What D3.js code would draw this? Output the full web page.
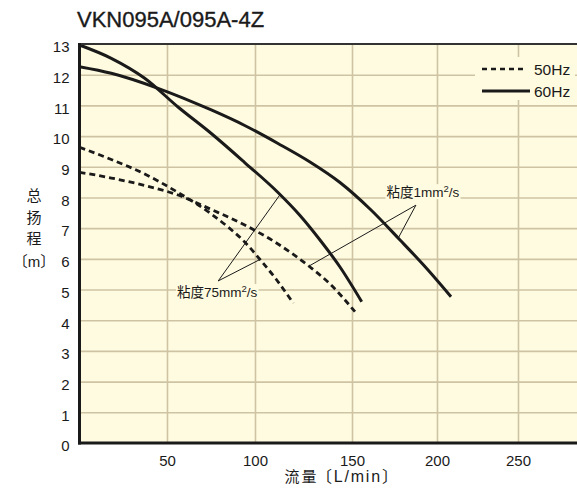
<!DOCTYPE html>
<html><head><meta charset="utf-8">
<script src="https://cdn.jsdelivr.net/npm/d3@7"></script>
<style>
body{margin:0;background:#fff}
text{font-family:"Liberation Sans","Noto Sans CJK SC",sans-serif;fill:#1a1a1a}
</style>
</head><body>
<svg id="c" width="577" height="491"></svg>
<script>
// ---- data ----
const titleText = "VKN095A/095A-4Z";
const xTickValues = [50, 100, 150, 200, 250];
const xGridValues = [50, 100, 150, 200, 250];
const yTickValues = [0,1,2,3,4,5,6,7,8,9,10,11,12,13];
const yGridValues = [1,2,3,4,5,6,7,8,9,10,11,12];
const yTitleChars = ["总", "扬", "程", "〔m〕"];
const xTitleParts = ["流", "量", "〔L/min〕"];
const legendLabels = ["50Hz", "60Hz"];

// 60Hz, viscosity 75 mm2/s (solid)
const flow60v75 = [0, 18.17, 37.26, 56.25, 75.17, 94.15, 111.86, 123.2, 133.51, 143.81, 155.71];
const head60v75 = [12.968, 12.534, 11.883, 10.948, 10.084, 9.139, 8.162, 7.413, 6.614, 5.735, 4.604];
// 60Hz, viscosity 1 mm2/s (solid)
const flow60v1 = [0, 18.17, 44.86, 75.17, 94.15, 111.86, 128.35, 143.81, 160.59, 178.24, 193.94, 208.65];
const head60v1 = [12.261, 12.046, 11.557, 10.85, 10.345, 9.759, 9.156, 8.488, 7.625, 6.615, 5.686, 4.767];
// 50Hz, viscosity 75 mm2/s (dashed)
const flow50v75 = [0, 18.17, 37.26, 56.25, 75.17, 84.66, 94.15, 102.58, 111.19, 119.74];
const head50v75 = [9.635, 9.237, 8.765, 8.162, 7.461, 7.038, 6.549, 5.979, 5.311, 4.552];
// 50Hz, viscosity 1 mm2/s (dashed)
const flow50v1 = [0, 18.17, 37.26, 56.25, 75.17, 94.15, 111.86, 128.35, 138.66, 151.76];
const head50v1 = [8.82, 8.634, 8.39, 8.08, 7.608, 7.103, 6.484, 5.735, 5.181, 4.278];

// annotations: label, apex [flow, head], targets
const ann75Label = ["粘度75mm", "2", "/s"];
const ann75Apex = [79.1, 5.28];
const ann75Ends = [[112.89, 8.09], [102.58, 5.98]];
const ann1Label = ["粘度1mm", "2", "/s"];
const ann1Apex = [187.6, 7.75];
const ann1Ends = [[177.24, 6.68], [127.99, 5.77]];

// ---- layout ----
const W = 577, H = 491;
const bg = "#fffbe0", gridC = "#cec4a3", ink = "#1a1a1a";
const svg = d3.select("#c");

const x = d3.scaleLinear()
  .domain([0, 50, 100, 150, 200, 250])
  .range([79.5, 167, 255, 352, 437, 518]);
const y = d3.scaleLinear().domain([0, 13]).range([443, 44]);
const x0 = x(0), xR = W, yB = y(0), yT = y(13);

// plot background
svg.append("rect").attr("x", x0).attr("y", yT).attr("width", xR - x0).attr("height", yB - yT).attr("fill", bg);

// grid
const gx = svg.append("g").attr("transform", `translate(0,${yB})`)
  .call(d3.axisBottom(x).tickValues(xGridValues).tickSize(-(yB - yT)).tickFormat(""));
gx.select(".domain").remove();
gx.selectAll("line").attr("stroke", gridC).attr("stroke-width", 1.6);
const gy = svg.append("g").attr("transform", `translate(${x0},0)`)
  .call(d3.axisLeft(y).tickValues(yGridValues).tickSize(-(xR - x0)).tickFormat(""));
gy.select(".domain").remove();
gy.selectAll("line").attr("stroke", gridC).attr("stroke-width", 1.6);

// curves
const line = d3.line().x(d => x(d[0])).y(d => y(d[1])).curve(d3.curveMonotoneX);
function curve(fl, hd, dashed) {
  svg.append("path").datum(fl.map((f, i) => [f, hd[i]]))
    .attr("d", line).attr("fill", "none").attr("stroke", ink)
    .attr("stroke-width", dashed ? 2.8 : 3)
    .attr("stroke-dasharray", dashed ? "6,4" : null);
}
curve(flow60v75, head60v75, false);
curve(flow60v1, head60v1, false);
curve(flow50v75, head50v75, true);
curve(flow50v1, head50v1, true);

// annotations
function annotate(label, apex, ends, dx, dy) {
  ends.forEach(e => {
    svg.append("line").attr("x1", x(apex[0])).attr("y1", y(apex[1]))
      .attr("x2", x(e[0])).attr("y2", y(e[1]))
      .attr("stroke", ink).attr("stroke-width", 1);
  });
  const g = svg.append("g");
  const t = g.append("text").attr("x", x(apex[0]) + dx).attr("y", y(apex[1]) + dy)
    .attr("text-anchor", "middle").attr("font-size", 13.5);
  t.append("tspan").text(label[0]);
  t.append("tspan").text(label[1]).attr("font-size", 9.5).attr("dy", -5);
  t.append("tspan").text(label[2]).attr("dy", 5);
  const b = t.node().getBBox();
  g.insert("rect", "text").attr("x", b.x - 1).attr("y", b.y + 1).attr("width", b.width + 2).attr("height", b.height - 2).attr("fill", bg);
}
annotate(ann75Label, ann75Apex, ann75Ends, -1, 16);
annotate(ann1Label, ann1Apex, ann1Ends, 7, -8);

// legend
const lg = svg.append("g");
lg.append("rect").attr("x", 475).attr("y", 57).attr("width", 100).attr("height", 43).attr("fill", bg);
legendLabels.forEach((lab, i) => {
  const yy = 69 + i * 22;
  lg.append("line").attr("x1", 482).attr("x2", i ? 530 : 527).attr("y1", yy).attr("y2", yy)
    .attr("stroke", ink).attr("stroke-width", i ? 3 : 2.6).attr("stroke-dasharray", i ? null : "5,4");
  lg.append("text").attr("x", 534).attr("y", yy + 6).attr("font-size", 15.5).text(lab);
});

// axes frame
svg.append("line").attr("x1", x0).attr("x2", xR).attr("y1", yT).attr("y2", yT).attr("stroke", "#333").attr("stroke-width", 2);
svg.append("line").attr("x1", x0).attr("x2", x0).attr("y1", yT - 1).attr("y2", yB + 1.5).attr("stroke", ink).attr("stroke-width", 3);
svg.append("line").attr("x1", x0 - 1.5).attr("x2", xR).attr("y1", yB).attr("y2", yB).attr("stroke", ink).attr("stroke-width", 3);

// tick labels
const ax = svg.append("g").attr("transform", `translate(0,${yB})`)
  .call(d3.axisBottom(x).tickValues(xTickValues).tickSize(0).tickPadding(12));
ax.select(".domain").remove();
ax.selectAll("text").attr("font-size", 15).attr("font-family", null).attr("fill", ink);
const ay = svg.append("g").attr("transform", `translate(${x0},0)`)
  .call(d3.axisLeft(y).tickValues(yTickValues).tickSize(0).tickPadding(10));
ay.select(".domain").remove();
ay.selectAll("text").attr("font-size", 15).attr("font-family", null).attr("fill", ink).attr("dy", "0.52em");

// titles
svg.append("text").attr("x", 77).attr("y", 27).attr("font-size", 22)
  .attr("stroke", ink).attr("stroke-width", 0.35).text(titleText);
const yTitleY = [195, 217, 238, 261];
yTitleChars.forEach((c, i) => {
  svg.append("text").attr("x", 34).attr("y", yTitleY[i]).attr("text-anchor", "middle")
    .attr("dominant-baseline", "central").attr("font-size", 15).text(c);
});
const xTitleX = [284.5, 301.5, 316];
xTitleParts.forEach((p, i) => {
  svg.append("text").attr("x", xTitleX[i]).attr("y", 482)
    .attr("font-size", i === 2 ? 16 : 15).attr("letter-spacing", i === 2 ? 1.8 : 0)
    .attr("font-family", '"Noto Sans CJK SC",sans-serif').text(p);
});
</script>
</body></html>
